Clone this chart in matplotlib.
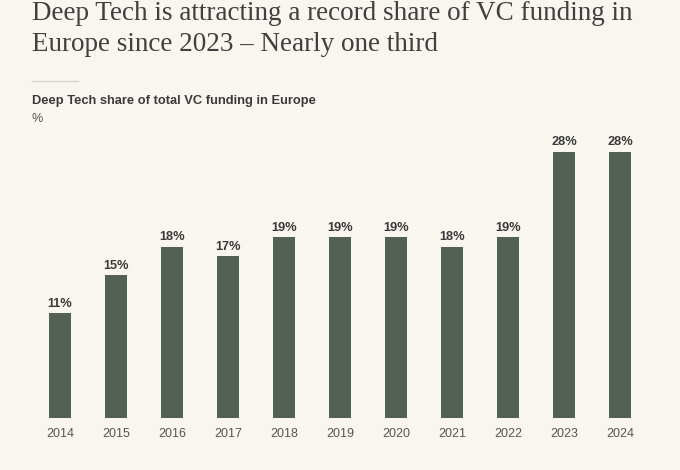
import matplotlib
matplotlib.use("Agg")
import matplotlib.pyplot as plt

years = ["2014", "2015", "2016", "2017", "2018", "2019", "2020", "2021", "2022", "2023", "2024"]
shares = [11, 15, 18, 17, 19, 19, 19, 18, 19, 28, 28]

bg = "#f8f6ef"
bar_color = "#536154"
text_dark = "#3a3a3a"
sans = "Liberation Sans"

W, H = 680, 470
fig = plt.figure(figsize=(W / 100, H / 100), dpi=100)
fig.patch.set_facecolor(bg)

# axes placed in pixels: x 32..648, y 130..418
ax = fig.add_axes([32 / W, (H - 418) / H, 616 / W, 288 / H])
ax.set_facecolor(bg)
x = range(len(years))
ax.bar(x, shares, width=0.41, color=bar_color)
for xi, v in zip(x, shares):
    ax.text(xi, v + 0.4, f"{v}%", ha="center", va="bottom", fontsize=9.2,
            fontweight="bold", color=text_dark, family=sans)
ax.set_xlim(-0.5, len(years) - 0.5)
ax.set_ylim(0, 30.3)
ax.set_xticks(list(x))
ax.set_xticklabels(years, family=sans, fontsize=9, color="#555555")
ax.tick_params(axis="x", length=0, pad=7)
ax.set_yticks([])
for s in ax.spines.values():
    s.set_visible(False)

# title, two lines
fig.text(32 / W, 1 - 20 / H, "Deep Tech is attracting a record share of VC funding in",
         ha="left", va="baseline", fontsize=19.5, family="Liberation Serif", color="#404040")
fig.text(32 / W, 1 - 51 / H, "Europe since 2023 \u2013 Nearly one third",
         ha="left", va="baseline", fontsize=19.5, family="Liberation Serif", color="#404040")

# short rule
fig.add_artist(plt.Line2D([32 / W, 78 / W], [1 - 81 / H, 1 - 81 / H], color="#d9d5c8", lw=1))

fig.text(32 / W, 1 - 104 / H, "Deep Tech share of total VC funding in Europe", ha="left", va="baseline",
         fontsize=9.3, fontweight="bold", family=sans, color=text_dark)
fig.text(32 / W, 1 - 122 / H, "%", ha="left", va="baseline", fontsize=9, family=sans, color="#555555")

fig.savefig("out.png", dpi=100, facecolor=bg)
